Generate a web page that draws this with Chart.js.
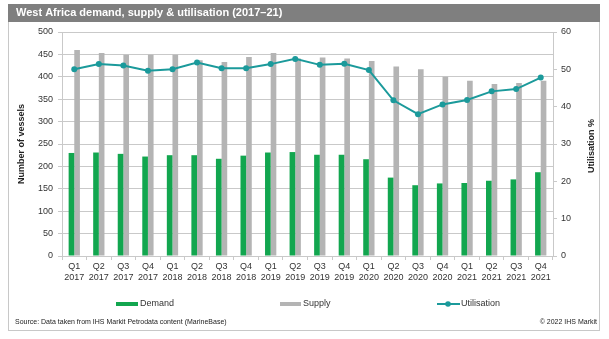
<!DOCTYPE html>
<html>
<head>
<meta charset="utf-8">
<title>West Africa demand, supply & utilisation</title>
<script src="https://cdn.jsdelivr.net/npm/chart.js@4/dist/chart.umd.min.js"></script>
<style>
  html, body { margin: 0; padding: 0; background: #fff; }
  #wrap { position: relative; width: 609px; height: 339px; }
</style>
</head>
<body>
<div id="wrap"><canvas id="myChart" width="609" height="339"></canvas></div>
<script>
// quarterly data, 2017-2021
const quarters = ['Q1', 'Q2', 'Q3', 'Q4', 'Q1', 'Q2', 'Q3', 'Q4', 'Q1', 'Q2', 'Q3', 'Q4', 'Q1', 'Q2', 'Q3', 'Q4', 'Q1', 'Q2', 'Q3', 'Q4'];
const years = ['2017', '2017', '2017', '2017', '2018', '2018', '2018', '2018', '2019', '2019', '2019', '2019', '2020', '2020', '2020', '2020', '2021', '2021', '2021', '2021'];
const demand = [230, 231, 228, 222, 225, 225, 217, 224, 231, 232, 226, 226, 216, 175, 158, 162, 163, 168, 171, 187];
const supply = [460, 453, 449, 449, 449, 437, 433, 444, 453, 441, 443, 441, 435, 423, 417, 400, 391, 384, 386, 391];
const utilisation = [50.0, 51.4, 51.0, 49.6, 50.0, 51.8, 50.3, 50.3, 51.4, 52.8, 51.2, 51.5, 49.8, 41.7, 38.0, 40.6, 41.8, 44.1, 44.7, 47.8];

const labels = quarters.map((q, i) => [q, years[i]]);

const GREEN = '#12a64f';
const GREY = '#b4b4b4';
const TEAL = '#1b9a9b';
const GRID = '#c9c9c9';
const TEXT = '#333333';
const FONT = 'Arial, "Liberation Sans", sans-serif';

Chart.defaults.font.family = FONT;
Chart.defaults.font.size = 9;
Chart.defaults.color = TEXT;

// frame, title bar, legend, right axis title and footer
const decorations = {
  id: 'decorations',
  beforeDraw(chart) {
    const ctx = chart.ctx;
    ctx.save();
    ctx.fillStyle = '#fff';
    ctx.fillRect(0, 0, chart.width, chart.height);
    ctx.strokeStyle = '#c8c8c8';
    ctx.lineWidth = 1;
    ctx.strokeRect(8.5, 21.5, 591, 309);
    ctx.fillStyle = '#7f7f7f';
    ctx.fillRect(8, 4, 592, 18);
    ctx.restore();
  },
  afterDraw(chart) {
    const ctx = chart.ctx;
    ctx.save();
    ctx.textBaseline = 'middle';

    ctx.fillStyle = '#fff';
    ctx.font = 'bold 11px ' + FONT;
    ctx.fillText('West Africa demand, supply & utilisation (2017\u201321)', 16, 13);

    // right axis title, reading upwards
    ctx.fillStyle = '#222';
    ctx.font = 'bold 9px ' + FONT;
    ctx.save();
    ctx.translate(592, 146);
    ctx.rotate(-Math.PI / 2);
    ctx.textAlign = 'center';
    ctx.fillText('Utilisation %', 0, 0);
    ctx.restore();

    // legend
    const ds = chart.data.datasets;
    ctx.font = '9px ' + FONT;
    ctx.fillStyle = ds[1].backgroundColor;
    ctx.fillRect(116, 302, 22, 4);
    ctx.fillStyle = ds[2].backgroundColor;
    ctx.fillRect(280, 302, 21, 4);
    ctx.strokeStyle = ds[0].borderColor;
    ctx.lineWidth = 2;
    ctx.beginPath();
    ctx.moveTo(437, 304);
    ctx.lineTo(460, 304);
    ctx.stroke();
    ctx.fillStyle = ds[0].borderColor;
    ctx.beginPath();
    ctx.arc(448, 304, 2.8, 0, Math.PI * 2);
    ctx.fill();
    ctx.fillStyle = TEXT;
    ctx.fillText(ds[1].label, 140, 304);
    ctx.fillText(ds[2].label, 303, 304);
    ctx.fillText(ds[0].label, 461, 304);

    // footer
    ctx.font = '7px ' + FONT;
    ctx.fillStyle = '#222';
    ctx.fillText('Source: Data taken from IHS Markit Petrodata content (MarineBase)', 15, 322);
    ctx.textAlign = 'right';
    ctx.fillText('\u00a9 2022 IHS Markit', 597, 322);
    ctx.restore();
  }
};

const ctx = document.getElementById('myChart').getContext('2d');
const myChart = new Chart(ctx, {
  type: 'bar',
  data: {
    labels: labels,
    datasets: [
      {
        type: 'line',
        label: 'Utilisation',
        data: utilisation,
        yAxisID: 'y1',
        borderColor: TEAL,
        backgroundColor: TEAL,
        borderWidth: 2,
        pointRadius: 3,
        pointBackgroundColor: TEAL,
        pointBorderWidth: 0,
        tension: 0,
        order: 0
      },
      {
        label: 'Demand',
        data: demand,
        yAxisID: 'y',
        backgroundColor: GREEN,
        barPercentage: 1,
        categoryPercentage: 0.46,
        order: 1
      },
      {
        label: 'Supply',
        data: supply,
        yAxisID: 'y',
        backgroundColor: GREY,
        barPercentage: 1,
        categoryPercentage: 0.46,
        order: 2
      }
    ]
  },
  options: {
    responsive: false,
    animation: false,
    devicePixelRatio: 1,
    layout: {
      autoPadding: false,
      padding: { top: 32, left: 0, right: 0, bottom: 0 }
    },
    plugins: {
      legend: { display: false },
      tooltip: { enabled: false }
    },
    scales: {
      x: {
        grid: { drawOnChartArea: false, drawTicks: true, tickLength: 4, color: GRID, offset: true },
        border: { color: GRID },
        ticks: { maxRotation: 0, autoSkip: false, padding: 1, color: TEXT },
        afterFit(scale) {
          scale.height = 83;
          scale.paddingLeft = 0;
          scale.paddingRight = 0;
        }
      },
      y: {
        position: 'left',
        min: 0,
        max: 500,
        ticks: { stepSize: 50, padding: 5, color: TEXT },
        grid: { color: GRID, tickLength: 4 },
        border: { color: GRID },
        title: {
          display: true,
          text: 'Number of vessels',
          color: '#222',
          font: { size: 9, weight: 'bold' },
          padding: { top: 16.6, bottom: 0 }
        },
        afterFit(scale) {
          scale.width = 62;
          scale.paddingTop = 0;
          scale.paddingBottom = 0;
        }
      },
      y1: {
        position: 'right',
        min: 0,
        max: 60,
        ticks: { stepSize: 10, padding: 4, color: TEXT },
        grid: { drawOnChartArea: false, tickLength: 4, color: GRID },
        border: { color: GRID },
        afterFit(scale) {
          scale.width = 56;
          scale.paddingTop = 0;
          scale.paddingBottom = 0;
        }
      }
    }
  },
  plugins: [decorations]
});
</script>
</body>
</html>
